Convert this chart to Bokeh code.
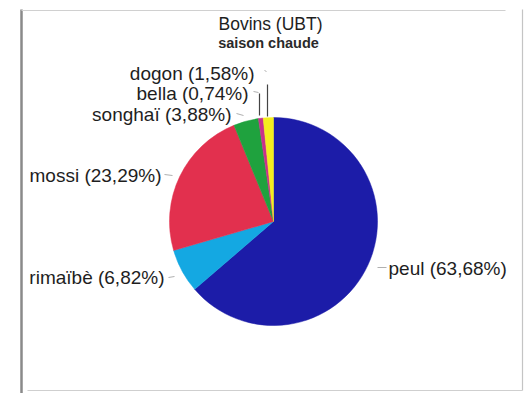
import math
from bokeh.plotting import figure
from bokeh.models import Range1d, ColumnDataSource
from bokeh.core.properties import value
from bokeh.embed import file_html
from bokeh.resources import INLINE

# ---- data ----
groups = ["peul", "rimaïbè", "mossi", "songhaï", "bella", "dogon"]
shares = [63.68, 6.82, 23.29, 3.88, 0.74, 1.58]
colors = ["#1c1ca8", "#14a8e2", "#e2304e", "#1fa23e", "#c8308c", "#f4ee1e"]
title_main = "Bovins (UBT)"
title_sub = "saison chaude"

# ---- layout (screen pixels, y downward) ----
W, H = 528, 393
cx, cy, R = 273, 221, 104
# label anchors: (x, y, align)
label_pos = [(388, 268, "left"), (164, 277, "right"), (161, 175, "right"),
             (231, 114, "right"), (248, 93, "right"), (254, 73, "right")]
# leader lines (x0, y0, x1, y1)
leaders = [(377, 267, 386, 267), (168, 277, 174, 276), (164, 174, 172, 175),
           (236, 113, 243, 115), (253, 91, 258, 92), (264, 70, 266, 71)]
verticals = [(259, 93, 259, 115), (267, 84, 267, 116)]

def Y(y):
    return H - y

p = figure(width=W, height=H, output_backend="svg", toolbar_location=None,
           x_range=Range1d(0, W), y_range=Range1d(0, H), min_border=0)
p.axis.visible = False
p.grid.visible = False
p.outline_line_color = None
p.background_fill_color = "white"
p.border_fill_color = "white"

# pie angles: start at 12 o'clock, clockwise
total = sum(shares)
starts, ends = [], []
acc = 0.0
for s in shares:
    a0 = acc / total
    acc += s
    a1 = acc / total
    starts.append(math.pi / 2 - 2 * math.pi * a1)
    ends.append(math.pi / 2 - 2 * math.pi * a0)

src = ColumnDataSource(dict(start=starts, end=ends, color=colors))
p.wedge(x=cx, y=Y(cy), radius=R, start_angle="start", end_angle="end",
        direction="anticlock", fill_color="color", line_color="color",
        line_width=0.5, source=src)

# frame (scanned box)
p.segment(x0=[21], y0=[Y(9)], x1=[21], y1=[Y(393)], line_color="#8a8a8a", line_width=2.5)
p.segment(x0=[21], y0=[Y(10)], x1=[505], y1=[Y(10)], line_color="#d0d0d0", line_width=1.2)
p.segment(x0=[522], y0=[Y(9)], x1=[522], y1=[Y(390)], line_color="#c4c4c4", line_width=1.2)
p.segment(x0=[27], y0=[Y(390)], x1=[522], y1=[Y(390)], line_color="#cfcfcf", line_width=1.2)

# leader lines
p.segment(x0=[l[0] for l in leaders], y0=[Y(l[1]) for l in leaders],
          x1=[l[2] for l in leaders], y1=[Y(l[3]) for l in leaders],
          line_color="#b0b0b0", line_width=1)
p.segment(x0=[l[0] for l in verticals], y0=[Y(l[1]) for l in verticals],
          x1=[l[2] for l in verticals], y1=[Y(l[3]) for l in verticals],
          line_color="#444444", line_width=1.2)

# labels
for g, s, (lx, ly, al) in zip(groups, shares, label_pos):
    txt = f"{g} ({s:.2f}%)".replace(".", ",")
    p.text(x=[lx], y=[Y(ly)], text=[txt], text_align=al, text_baseline="middle",
           text_font=value("Liberation Sans"), text_font_size="19px",
           text_color="#1e1e1e")

# title
p.text(x=[270], y=[Y(23)], text=[title_main], text_align="center",
       text_baseline="middle", text_font=value("Liberation Sans"),
       text_font_size="17.5px", text_color="#1e1e1e")
p.text(x=[268], y=[Y(42)], text=[title_sub], text_align="center",
       text_baseline="middle", text_font=value("Liberation Sans"),
       text_font_size="14.5px", text_font_style="bold", text_color="#2a2a2a")

open("out.html", "w").write(file_html(p, INLINE))
